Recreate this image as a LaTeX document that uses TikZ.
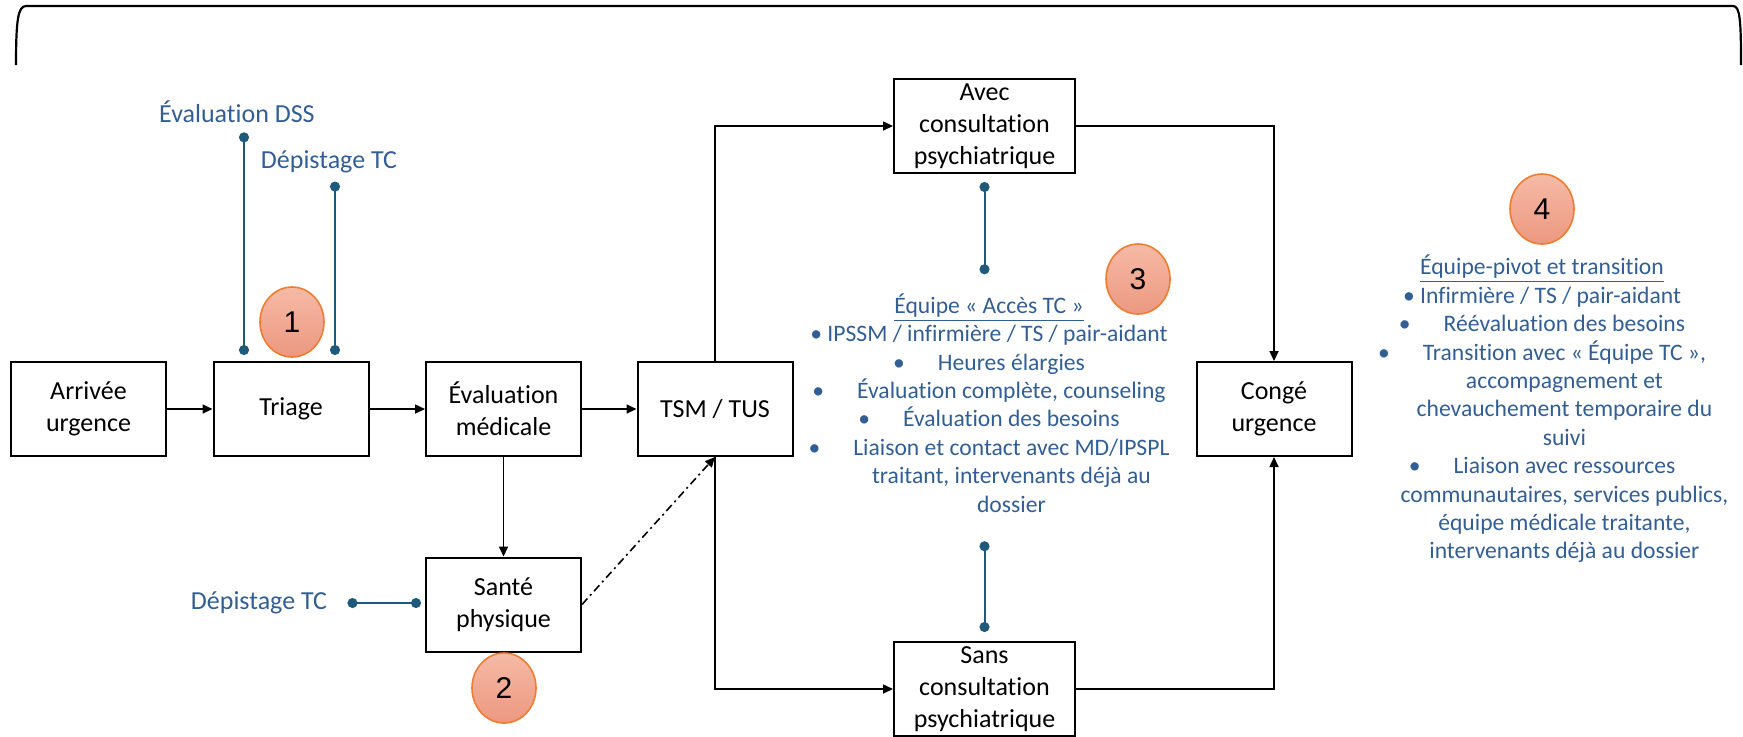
\documentclass[tikz,border=0pt]{standalone}
\usepackage{fontspec}
\setmainfont{Carlito}[Ligatures={NoCommon,NoContextual}]
\newfontfamily\chiffres{Liberation Sans}
\usetikzlibrary{arrows.meta,shapes.geometric}
\definecolor{bleutexte}{RGB}{50,94,148}
\definecolor{bleulien}{RGB}{31,90,122}
\definecolor{saumonhaut}{RGB}{246,186,166}
\definecolor{saumonbas}{RGB}{236,152,128}
\definecolor{orangebord}{RGB}{237,125,49}
\newcommand{\puce}{\textbullet\hspace{1.4em}}
\newcommand{\suite}{\phantom{\textbullet}\hspace*{1.4em}}
\tikzset{
  boite/.style={draw, line width=1pt, minimum width=77.5pt, minimum height=47pt, inner sep=0pt, align=center, font=\fontsize{13}{16}\selectfont},
  fleche/.style={line width=0.8pt, -{Triangle[length=5pt,width=4.5pt]}},
  lien/.style={bleulien, line width=1pt, {Circle[length=5pt]}-{Circle[length=5pt]}},
  etiquette/.style={bleutexte, inner sep=0pt, font=\fontsize{13}{16}\selectfont},
  equipe/.style={bleutexte, inner sep=0pt, align=center, font=\fontsize{11.8}{14.2}\selectfont},
  numero/.style={ellipse, draw=orangebord, line width=0.8pt, top color=saumonhaut, bottom color=saumonbas, minimum width=32pt, minimum height=35pt, inner sep=0pt, font=\chiffres\fontsize{15}{18}\selectfont}
}
\begin{document}
\begin{tikzpicture}[x=0.5pt,y=0.5pt,yscale=-1]
\useasboundingbox (0,0) rectangle (1743,736);
\clip (0,0) rectangle (1743,736);
\draw[line width=1.1pt] (16,65) .. controls (16,20) and (18,6) .. (26,6) -- (1733,6) .. controls (1740,6) and (1741,20) .. (1741,65);

\node[boite] (arrivee) at (88.5,409) {Arrivée\\urgence};
\node[boite] (triage) at (291,409) {Triage};
\node[boite] (evalmed) at (503.5,409) {Évaluation\\médicale};
\node[boite] (tsm) at (715,409) {TSM / TUS};
\node[boite] (conge) at (1274,409) {Congé\\urgence};
\node[boite, minimum width=90.5pt] (avec) at (984.5,126) {Avec\\consultation\\psychiatrique};
\node[boite, minimum width=90.5pt] (sans) at (984.5,689) {Sans\\consultation\\psychiatrique};
\node[boite] (sante) at (503.5,604.5) {Santé\\physique};

\node[numero] (n1) at (292,322) {1};
\node[numero] (n2) at (504,688) {2};
\node[numero] (n3) at (1138,279) {3};
\node[numero] (n4) at (1542,209) {4};

\node[etiquette] (dss) at (237,112) {Évaluation DSS};
\node[etiquette] (deptriage) at (329,162) {Dépistage TC};
\node[etiquette] (depsante) at (259,603) {Dépistage TC};

\node[equipe] (equipe3) at (989,403) {\underline{Équipe «~Accès TC~»}\\
\textbullet{} IPSSM / infirmière / TS / pair-aidant\\
\puce Heures élargies\\
\puce Évaluation complète, counseling\\
\puce Évaluation des besoins\\
\puce Liaison et contact avec MD/IPSPL\\
\suite traitant, intervenants déjà au\\
\suite dossier};
\node[equipe] (equipe4) at (1542,409) {\underline{Équipe-pivot et transition}\\
\textbullet{} Infirmière / TS / pair-aidant\\
\puce Réévaluation des besoins\\
\puce Transition avec «~Équipe TC~»,\\
\suite accompagnement et\\
\suite chevauchement temporaire du\\
\suite suivi\\
\puce Liaison avec ressources\\
\suite communautaires, services publics,\\
\suite équipe médicale traitante,\\
\suite intervenants déjà au dossier};

\draw[fleche] (arrivee) -- (triage);
\draw[fleche] (triage) -- (evalmed);
\draw[fleche] (evalmed) -- (tsm);
\draw[fleche] (evalmed) -- (sante);
\draw[fleche] (tsm.north) |- (avec.west);
\draw[fleche] (avec.east) -| (conge.north);
\draw[fleche] (tsm.south) |- (sans.west);
\draw[fleche] (sans.east) -| (conge.south);
\draw[fleche, dash pattern=on 4pt off 2pt on 1pt off 2pt] (sante.east) -- (tsm.south);

\draw[lien, shorten <=4.5pt, shorten >=3pt] ([xshift=3.5pt]dss.south) -- ([xshift=3.5pt]dss.south |- triage.north);
\draw[lien, shorten <=4pt, shorten >=3pt] ([xshift=3pt]deptriage.south) -- ([xshift=3pt]deptriage.south |- triage.north);
\draw[lien, shorten <=10pt, shorten >=2pt] (depsante.east) -- (depsante.east -| sante.west);
\draw[lien, shorten <=4pt, shorten >=9.5pt] (avec.south) -- (avec.south |- equipe3.north);
\draw[lien, shorten <=14.25pt, shorten >=4.5pt] (sans.north |- equipe3.south) -- (sans.north);
\end{tikzpicture}
\end{document}
